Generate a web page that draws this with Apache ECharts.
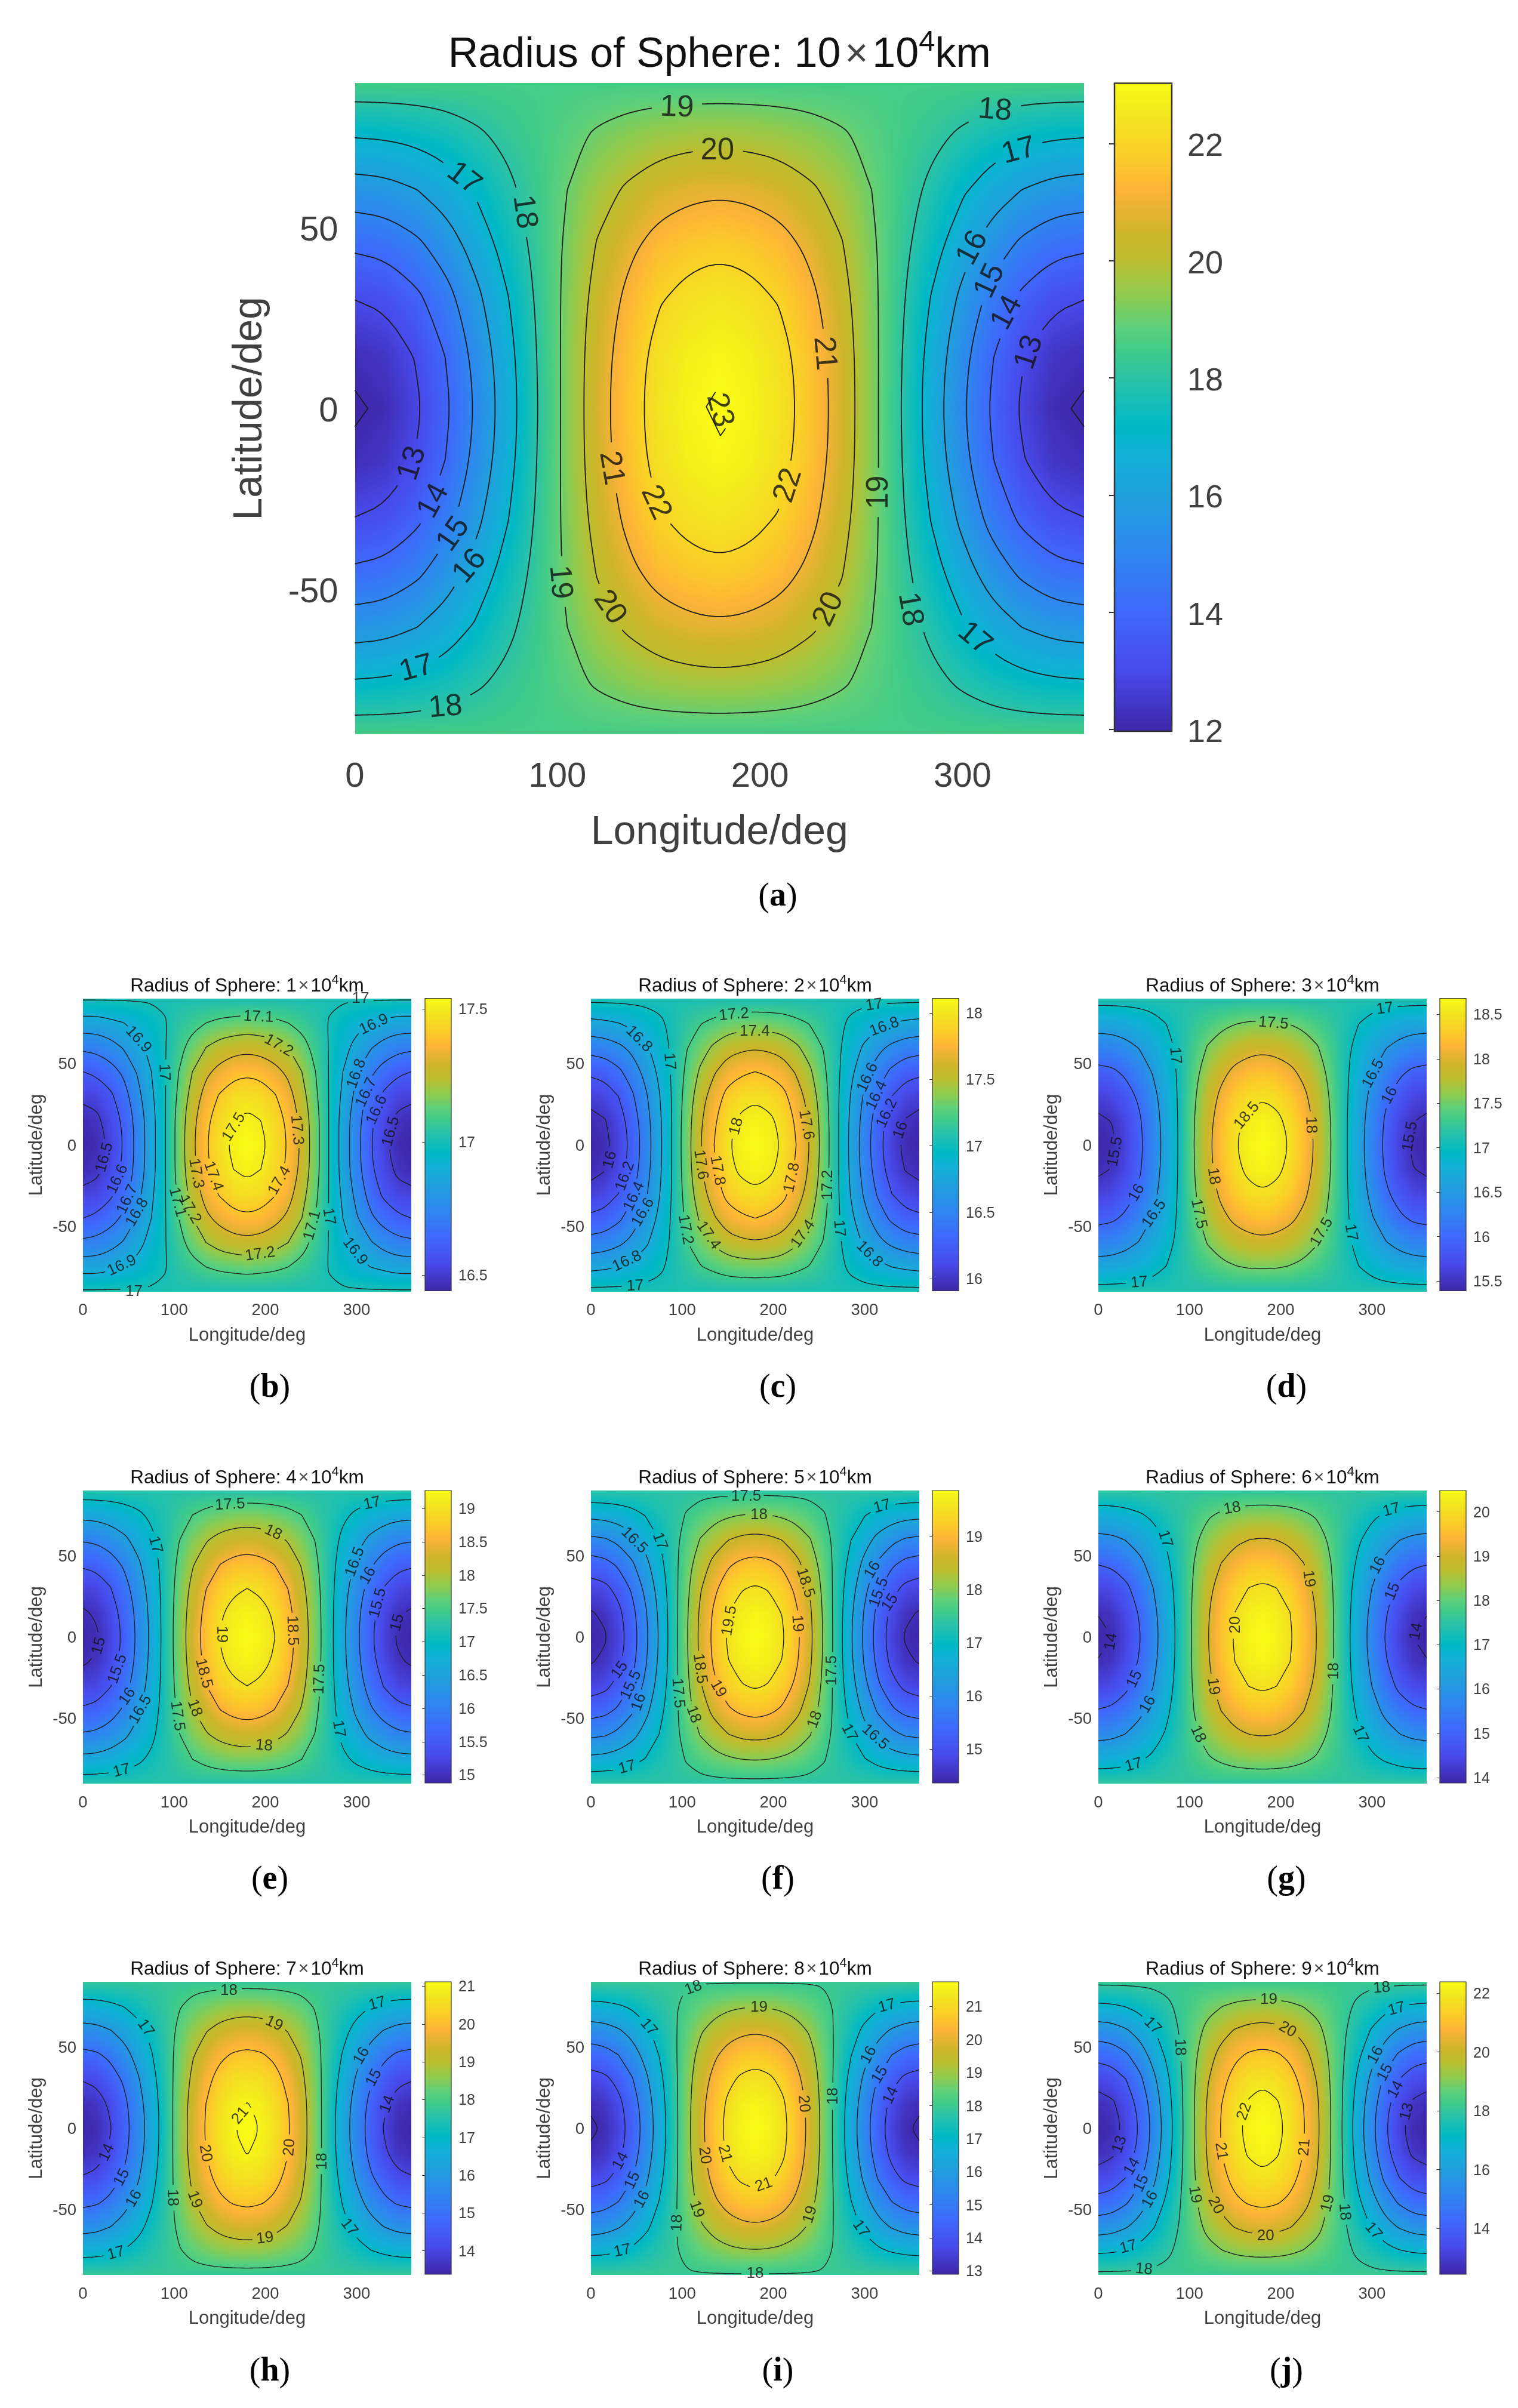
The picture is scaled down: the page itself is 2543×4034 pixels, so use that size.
<!DOCTYPE html>
<html>
<head>
<meta charset="utf-8">
<title>Radius of Sphere</title>
<script src="https://cdn.jsdelivr.net/npm/echarts@6/dist/echarts.min.js"></script>
<style>
html, body { margin: 0; padding: 0; background: #fff; }
#chart { width: 2543px; height: 4034px; }
</style>
</head>
<body>
<div id="chart"></div>
<script>
// grid nodes of one quadrant, the rest of the field is mirrored from it
var lonNodes = [0, 15, 30, 45, 60, 75, 90, 105, 120, 135, 150, 165, 180]
var latNodes = [0, 15, 30, 45, 60, 75, 90]

// values, one row per latNodes entry
var fieldA = [
  [11.97, 12.18, 12.82, 13.83, 15.13, 16.49, 17.97, 19.31, 20.60, 21.60, 22.40, 22.85, 23.03],
  [12.24, 12.45, 13.06, 14.04, 15.30, 16.61, 18.02, 19.30, 20.55, 21.52, 22.29, 22.72, 22.90],
  [13.00, 13.18, 13.74, 14.61, 15.74, 16.91, 18.12, 19.26, 20.37, 21.24, 21.93, 22.32, 22.48],
  [14.16, 14.31, 14.76, 15.48, 16.40, 17.36, 18.26, 19.17, 20.08, 20.79, 21.36, 21.67, 21.80],
  [15.52, 15.62, 15.94, 16.45, 17.10, 17.78, 18.38, 19.01, 19.66, 20.16, 20.56, 20.78, 20.87],
  [17.02, 17.08, 17.24, 17.50, 17.84, 18.19, 18.47, 18.79, 19.13, 19.39, 19.59, 19.71, 19.76],
  [18.53, 18.53, 18.53, 18.53, 18.53, 18.53, 18.53, 18.53, 18.53, 18.53, 18.53, 18.53, 18.53]
]
var fieldB = [
  [16.44, 16.46, 16.52, 16.61, 16.735, 16.86, 16.995, 17.14, 17.28, 17.39, 17.47, 17.52, 17.54],
  [16.46, 16.48, 16.54, 16.62, 16.74, 16.86, 16.995, 17.14, 17.27, 17.38, 17.45, 17.50, 17.52],
  [16.52, 16.53, 16.58, 16.66, 16.77, 16.88, 16.995, 17.12, 17.24, 17.34, 17.41, 17.45, 17.47],
  [16.60, 16.62, 16.66, 16.72, 16.81, 16.90, 16.995, 17.10, 17.20, 17.28, 17.33, 17.37, 17.38],
  [16.72, 16.73, 16.76, 16.81, 16.87, 16.93, 16.995, 17.07, 17.14, 17.20, 17.24, 17.26, 17.27],
  [16.86, 16.86, 16.88, 16.90, 16.93, 16.96, 16.995, 17.04, 17.07, 17.10, 17.12, 17.13, 17.14],
  [17.01, 17.01, 17.01, 17.01, 17.01, 17.01, 17.01, 17.01, 17.01, 17.01, 17.01, 17.01, 17.01]
]
var fieldC = [
  [15.91, 15.95, 16.07, 16.26, 16.50, 16.75, 17.03, 17.32, 17.59, 17.80, 17.98, 18.07, 18.11],
  [15.95, 15.99, 16.10, 16.29, 16.52, 16.76, 17.03, 17.31, 17.57, 17.77, 17.95, 18.04, 18.07],
  [16.06, 16.10, 16.20, 16.37, 16.57, 16.79, 17.03, 17.28, 17.52, 17.70, 17.86, 17.93, 17.97],
  [16.24, 16.27, 16.36, 16.49, 16.66, 16.84, 17.04, 17.24, 17.43, 17.58, 17.71, 17.77, 17.80],
  [16.48, 16.50, 16.56, 16.65, 16.77, 16.90, 17.04, 17.19, 17.32, 17.43, 17.52, 17.56, 17.58],
  [16.75, 16.77, 16.80, 16.85, 16.91, 16.97, 17.04, 17.12, 17.19, 17.24, 17.29, 17.31, 17.32],
  [17.05, 17.05, 17.05, 17.05, 17.05, 17.05, 17.05, 17.05, 17.05, 17.05, 17.05, 17.05, 17.05]
]
var fieldD = [
  [15.39, 15.45, 15.63, 15.91, 16.28, 16.66, 17.08, 17.50, 17.91, 18.23, 18.48, 18.62, 18.68],
  [15.45, 15.51, 15.68, 15.95, 16.31, 16.68, 17.08, 17.49, 17.88, 18.19, 18.43, 18.57, 18.63],
  [15.62, 15.68, 15.83, 16.07, 16.39, 16.72, 17.09, 17.45, 17.81, 18.08, 18.30, 18.42, 18.47],
  [15.90, 15.94, 16.07, 16.27, 16.53, 16.80, 17.09, 17.39, 17.68, 17.91, 18.08, 18.18, 18.23],
  [16.26, 16.29, 16.38, 16.52, 16.70, 16.89, 17.10, 17.32, 17.52, 17.68, 17.81, 17.88, 17.91],
  [16.68, 16.69, 16.74, 16.81, 16.91, 17.01, 17.12, 17.23, 17.33, 17.41, 17.48, 17.52, 17.53],
  [17.13, 17.13, 17.13, 17.13, 17.13, 17.13, 17.13, 17.13, 17.13, 17.13, 17.13, 17.13, 17.13]
]
var fieldE = [
  [14.88, 14.96, 15.21, 15.59, 16.09, 16.60, 17.17, 17.73, 18.26, 18.68, 19.01, 19.19, 19.27],
  [14.96, 15.04, 15.28, 15.65, 16.13, 16.62, 17.17, 17.71, 18.22, 18.63, 18.95, 19.12, 19.20],
  [15.19, 15.26, 15.48, 15.81, 16.24, 16.68, 17.18, 17.66, 18.12, 18.49, 18.77, 18.93, 19.00],
  [15.57, 15.63, 15.80, 16.07, 16.42, 16.78, 17.19, 17.58, 17.96, 18.26, 18.49, 18.62, 18.67],
  [16.05, 16.09, 16.22, 16.41, 16.66, 16.91, 17.20, 17.48, 17.75, 17.96, 18.12, 18.21, 18.25],
  [16.62, 16.64, 16.71, 16.81, 16.93, 17.07, 17.21, 17.36, 17.50, 17.61, 17.69, 17.74, 17.76],
  [17.23, 17.23, 17.23, 17.23, 17.23, 17.23, 17.23, 17.23, 17.23, 17.23, 17.23, 17.23, 17.23]
]
var fieldF = [
  [14.36, 14.46, 14.77, 15.26, 15.89, 16.55, 17.27, 17.96, 18.62, 19.13, 19.55, 19.78, 19.87],
  [14.47, 14.57, 14.87, 15.34, 15.95, 16.59, 17.27, 17.94, 18.58, 19.07, 19.48, 19.70, 19.79],
  [14.79, 14.88, 15.15, 15.57, 16.12, 16.69, 17.29, 17.89, 18.46, 18.90, 19.27, 19.47, 19.55],
  [15.29, 15.36, 15.58, 15.93, 16.37, 16.84, 17.32, 17.81, 18.27, 18.63, 18.93, 19.09, 19.16],
  [15.91, 15.96, 16.12, 16.36, 16.68, 17.01, 17.34, 17.69, 18.02, 18.27, 18.48, 18.60, 18.64],
  [16.62, 16.65, 16.73, 16.85, 17.02, 17.19, 17.35, 17.53, 17.70, 17.84, 17.94, 18.00, 18.03],
  [17.37, 17.37, 17.37, 17.37, 17.37, 17.37, 17.37, 17.37, 17.37, 17.37, 17.37, 17.37, 17.37]
]
var fieldG = [
  [13.88, 14.00, 14.37, 14.95, 15.70, 16.48, 17.33, 18.16, 18.97, 19.59, 20.09, 20.37, 20.48],
  [14.02, 14.14, 14.50, 15.06, 15.78, 16.54, 17.35, 18.15, 18.93, 19.53, 20.01, 20.28, 20.39],
  [14.41, 14.51, 14.83, 15.34, 15.99, 16.66, 17.38, 18.10, 18.80, 19.34, 19.77, 20.01, 20.11],
  [15.03, 15.12, 15.38, 15.79, 16.32, 16.87, 17.43, 18.01, 18.58, 19.02, 19.37, 19.57, 19.65],
  [15.79, 15.85, 16.03, 16.32, 16.70, 17.09, 17.47, 17.88, 18.29, 18.60, 18.85, 18.99, 19.04],
  [16.65, 16.68, 16.78, 16.93, 17.12, 17.33, 17.52, 17.72, 17.93, 18.09, 18.22, 18.29, 18.32],
  [17.54, 17.54, 17.54, 17.54, 17.54, 17.54, 17.54, 17.54, 17.54, 17.54, 17.54, 17.54, 17.54]
]
var fieldH = [
  [13.38, 13.52, 13.96, 14.64, 15.52, 16.44, 17.45, 18.42, 19.36, 20.08, 20.66, 20.99, 21.12],
  [13.55, 13.68, 14.11, 14.77, 15.62, 16.50, 17.47, 18.41, 19.32, 20.01, 20.57, 20.89, 21.02],
  [14.04, 14.16, 14.54, 15.13, 15.89, 16.69, 17.52, 18.35, 19.16, 19.79, 20.29, 20.58, 20.69],
  [14.78, 14.88, 15.19, 15.67, 16.29, 16.94, 17.60, 18.26, 18.93, 19.44, 19.85, 20.08, 20.17],
  [15.68, 15.75, 15.97, 16.31, 16.75, 17.21, 17.66, 18.13, 18.60, 18.96, 19.25, 19.41, 19.48],
  [16.70, 16.73, 16.85, 17.02, 17.25, 17.49, 17.71, 17.95, 18.20, 18.38, 18.53, 18.62, 18.65],
  [17.75, 17.75, 17.75, 17.75, 17.75, 17.75, 17.75, 17.75, 17.75, 17.75, 17.75, 17.75, 17.75]
]
var fieldI = [
  [12.90, 13.07, 13.57, 14.36, 15.39, 16.45, 17.62, 18.71, 19.77, 20.58, 21.23, 21.60, 21.75],
  [13.10, 13.27, 13.75, 14.51, 15.51, 16.53, 17.64, 18.69, 19.72, 20.50, 21.13, 21.49, 21.63],
  [13.66, 13.80, 14.24, 14.92, 15.81, 16.73, 17.70, 18.64, 19.56, 20.26, 20.82, 21.14, 21.27],
  [14.52, 14.64, 14.99, 15.55, 16.28, 17.03, 17.79, 18.54, 19.29, 19.86, 20.32, 20.58, 20.69],
  [15.56, 15.65, 15.90, 16.29, 16.81, 17.34, 17.85, 18.38, 18.91, 19.32, 19.64, 19.83, 19.90],
  [16.74, 16.79, 16.92, 17.12, 17.39, 17.66, 17.91, 18.18, 18.45, 18.66, 18.83, 18.93, 18.96],
  [17.95, 17.95, 17.95, 17.95, 17.95, 17.95, 17.95, 17.95, 17.95, 17.95, 17.95, 17.95, 17.95]
]
var fieldJ = [
  [12.44, 12.63, 13.20, 14.09, 15.25, 16.45, 17.77, 18.99, 20.17, 21.08, 21.81, 22.22, 22.39],
  [12.68, 12.86, 13.41, 14.27, 15.39, 16.55, 17.80, 18.97, 20.11, 20.99, 21.70, 22.09, 22.26],
  [13.32, 13.48, 13.98, 14.75, 15.75, 16.79, 17.87, 18.92, 19.94, 20.73, 21.36, 21.72, 21.87],
  [14.32, 14.46, 14.86, 15.49, 16.31, 17.16, 17.99, 18.82, 19.66, 20.30, 20.82, 21.11, 21.23],
  [15.51, 15.60, 15.89, 16.33, 16.91, 17.51, 18.07, 18.66, 19.25, 19.70, 20.07, 20.27, 20.36],
  [16.83, 16.88, 17.03, 17.26, 17.56, 17.87, 18.14, 18.44, 18.75, 18.98, 19.17, 19.28, 19.32],
  [18.18, 18.18, 18.18, 18.18, 18.18, 18.18, 18.18, 18.18, 18.18, 18.18, 18.18, 18.18, 18.18]
]

// contour levels
var levelsA = [13, 14, 15, 16, 17, 18, 19, 20, 21, 22]
var levelsB = [16.5, 16.6, 16.7, 16.8, 16.9, 17, 17.1, 17.2, 17.3, 17.4, 17.5]
var levelsC = [16, 16.2, 16.4, 16.6, 16.8, 17, 17.2, 17.4, 17.6, 17.8, 18]
var levelsD = [15.5, 16, 16.5, 17, 17.5, 18, 18.5]
var levelsE = [15, 15.5, 16, 16.5, 17, 17.5, 18, 18.5, 19]
var levelsF = [14.5, 15, 15.5, 16, 16.5, 17, 17.5, 18, 18.5, 19, 19.5]
var levelsG = [14, 15, 16, 17, 18, 19, 20]
var levelsH = [14, 15, 16, 17, 18, 19, 20, 21]
var levelsI = [13, 14, 15, 16, 17, 18, 19, 20, 21]
var levelsJ = [13, 14, 15, 16, 17, 18, 19, 20, 21, 22]

// the tiny closed contours of the big panel, too small for the grid
var smallContoursA = [
  [[0, 5], [6.4, 0], [0, -5]],
  [[360, 5], [353.6, 0], [360, -5]],
  [[178, 4.5], [173.5, 0.5], [180.5, -7.5], [183, -5.5]]
]

// colour bar ranges and ticks
var rangeA = [11.97, 23.03], ticksA = [12, 14, 16, 18, 20, 22]
var rangeB = [16.44, 17.54], ticksB = [16.5, 17, 17.5]
var rangeC = [15.91, 18.11], ticksC = [16, 16.5, 17, 17.5, 18]
var rangeD = [15.39, 18.68], ticksD = [15.5, 16, 16.5, 17, 17.5, 18, 18.5]
var rangeE = [14.88, 19.27], ticksE = [15, 15.5, 16, 16.5, 17, 17.5, 18, 18.5, 19]
var rangeF = [14.36, 19.87], ticksF = [15, 16, 17, 18, 19]
var rangeG = [13.88, 20.48], ticksG = [14, 15, 16, 17, 18, 19, 20]
var rangeH = [13.38, 21.12], ticksH = [14, 15, 16, 17, 18, 19, 20, 21]
var rangeI = [12.90, 21.75], ticksI = [13, 14, 15, 16, 17, 18, 19, 20, 21]
var rangeJ = [12.44, 22.39], ticksJ = [14, 16, 18, 20, 22]

var lonTicks = [0, 100, 200, 300]
var latTicks = [-50, 0, 50]

// contour labels: lon, lat, rotation, text
var labelsA = [
  [159, 83.1, -2, '19'], [179, 71.1, 0, '20'], [83.6, 54.3, -82, '18'], [53.8, 63.5, -38, '17'],
  [231.7, 15.2, -85, '21'], [180, -0.5, -75, '23'], [126.5, -16.5, -80, '21'], [148.5, -26, -65, '22'],
  [214, -21.3, 72, '22'], [258.8, -23.2, 90, '19'], [101.2, -48, -85, '19'], [125.8, -55, -55, '20'],
  [234, -55.5, 65, '20'], [274, -55.5, -80, '18'], [306, -63.6, -40, '17'], [28.4, -15.2, 72, '13'],
  [38.9, -25.6, 62, '14'], [48.7, -34.8, 55, '15'], [56.8, -43.6, 50, '16'], [30.4, -71.9, 15, '17'],
  [44.7, -82.6, 5, '18'], [316, 82.3, -5, '18'], [327.8, 71.1, 15, '17'], [305, 44.3, 62, '16'],
  [313.6, 35.2, 65, '15'], [322, 26.4, 62, '14'], [333, 15.5, 72, '13']
]
var labelsB = [
  [192.4, 78.6, -3, '17.1'], [214.6, 61, -30, '17.2'], [60.7, 64.7, -48, '16.9'], [89, 44.6, -88, '17'],
  [165.5, 10.9, 58, '17.5'], [234.4, 9.1, -85, '17.3'], [124, -17.5, -80, '17.3'], [142.8, -19.2, -70, '17.4'],
  [215.7, -21.9, 60, '17.4'], [103.4, -35.2, -75, '17.1'], [117, -39.6, -60, '17.2'], [251.6, -49.4, 75, '17.1'],
  [269.6, -44, -80, '17'], [194.2, -67.1, 8, '17.2'], [298.3, -65.4, -52, '16.9'], [42.7, -74.2, 25, '16.9'],
  [56, -90, 0, '17'], [304.4, 89.8, 0, '17'], [319, 73.9, 25, '16.9'], [300, 43.7, 70, '16.8'],
  [310.8, 32.2, 65, '16.7'], [322.3, 21.5, 65, '16.6'], [337.7, 8.2, 75, '16.5'], [23.7, -7.7, 75, '16.5'],
  [38, -21, 65, '16.6'], [48.8, -33.4, 65, '16.7'], [59.6, -41.4, 60, '16.8']
]
var labelsC = [
  [156.8, 80, 5, '17.2'], [179.6, 69.8, 0, '17.4'], [52.6, 65, -45, '16.8'], [86, 51.3, -85, '17'],
  [159.6, 11.4, 75, '18'], [236, 12.3, -80, '17.6'], [120.4, -12.1, -82, '17.6'], [138.6, -15.7, -80, '17.8'],
  [220.4, -20.1, 78, '17.8'], [259.6, -24.6, 90, '17.2'], [103.5, -52, -80, '17.2'], [128.8, -55.6, -55, '17.4'],
  [232.6, -54.7, 55, '17.4'], [272, -51.2, -85, '17'], [305.3, -67.1, -45, '16.8'], [39.6, -71.5, 25, '16.8'],
  [48.4, -86.6, 3, '17'], [310.5, 85.9, 8, '17'], [321.8, 72.5, 20, '16.8'], [303.5, 41.4, 65, '16.6'],
  [313.3, 30.4, 65, '16.4'], [324.6, 19.4, 65, '16.2'], [339.6, 9.1, 70, '16'], [21, -9.1, 75, '16'],
  [37.5, -19.2, 70, '16.2'], [47.4, -31.6, 65, '16.4'], [57.2, -41.4, 60, '16.6']
]
var labelsD = [
  [192, 74.7, -5, '17.5'], [84.2, 54.9, -85, '17'], [162.9, 18, 50, '18.5'], [233, 12.3, -88, '18'],
  [126.3, -19.2, -82, '18'], [301.5, 43.7, 62, '16.5'], [319.6, 30.4, 62, '16'], [341.9, 5.2, 80, '15.5'],
  [18.5, -4.2, 80, '15.5'], [42.1, -29.5, 60, '16'], [61.3, -42.3, 55, '16.5'], [109.9, -42.3, -78, '17.5'],
  [245, -53.5, 60, '17.5'], [276.9, -53.8, -80, '17'], [44.8, -84.5, 5, '17'], [314.2, 83.6, 8, '17']
]
var labelsE = [
  [161.2, 81.3, 3, '17.5'], [208.5, 64.2, -25, '18'], [79.3, 56.7, -75, '17'], [229.4, 4, -88, '18.5'],
  [151.8, 1.7, -90, '19'], [132.4, -22.3, -75, '18.5'], [259.5, -25.8, 88, '17.5'], [103.4, -48.4, -82, '17.5'],
  [122.4, -43.6, -70, '18'], [198.5, -66.7, -5, '18'], [280.3, -56.4, -80, '17'], [42.4, -82.1, 15, '17'],
  [317, 82, 12, '17'], [298.3, 46.1, 70, '16.5'], [312.6, 37.7, 60, '16'], [323.4, 20.9, 75, '15.5'],
  [344.9, 8.8, 75, '15'], [17.6, -5.4, 75, '15'], [38, -19.6, 70, '15.5'], [48.8, -36.5, 55, '16'],
  [63.2, -44.5, 60, '16.5']
]
var labelsF = [
  [170.2, 86.4, 0, '17.5'], [184.2, 75, 0, '18'], [47.4, 59.4, -45, '16.5'], [75.4, 58.9, -70, '17'],
  [235, 33.3, -72, '18.5'], [151.9, 10, 80, '19.5'], [226.3, 8.4, -85, '19'], [119.3, -19.3, -82, '18.5'],
  [139.6, -31.7, -60, '19'], [264.2, -20.5, 90, '17.5'], [95.4, -34.4, -85, '17.5'], [112.3, -47.5, -70, '18'],
  [245.6, -50.7, 70, '18'], [283.2, -58.7, -62, '17'], [311.6, -61.4, -42, '16.5'], [39.6, -80, 15, '17'],
  [319.3, 80.2, 15, '17'], [308.8, 41.3, 60, '16'], [315.8, 27.4, 70, '15.5'], [328, 21.2, 55, '15'],
  [31.6, -20.2, 55, '15'], [43.9, -29.4, 65, '15.5'], [52.6, -40, 70, '16']
]
var labelsG = [
  [146.8, 79, 10, '18'], [73.2, 60.3, -72, '17'], [230.7, 35.8, -82, '19'], [150.2, 7.5, 90, '20'],
  [125.9, -30.3, -82, '19'], [258.7, -20.9, 90, '18'], [109.2, -59.6, -65, '18'], [287.1, -59.6, -65, '17'],
  [38.7, -78.6, 15, '17'], [321.4, 78.1, 15, '17'], [306.6, 44, 62, '16'], [322.7, 28, 68, '15'],
  [348.7, 3.5, 80, '14'], [14, -2.8, 80, '14'], [39.7, -25.8, 65, '15'], [54.4, -41.5, 60, '16']
]
var labelsH = [
  [160, 84.6, 0, '18'], [209.6, 64.3, -25, '19'], [68.6, 61.6, -55, '17'], [172.6, 7.9, 50, '21'],
  [134.2, -15.3, -80, '20'], [226.5, -11.7, 85, '20'], [262.4, -20.3, 90, '18'], [98, -42.5, -88, '18'],
  [122.4, -43.7, -70, '19'], [199.6, -67.5, 8, '19'], [291.8, -60.8, -52, '17'], [36.3, -76.7, 15, '17'],
  [322.7, 76.5, 15, '17'], [305.5, 44.5, 60, '16'], [319, 31, 62, '15'], [334, 14.8, 70, '14'],
  [26.2, -14.9, 65, '14'], [42.7, -30.2, 62, '15'], [56, -43.2, 60, '16']
]
var labelsI = [
  [112.3, 86.2, 20, '18'], [184.2, 74.2, 0, '19'], [63.2, 62.1, -50, '17'], [265.6, 19.8, 90, '18'],
  [233.3, 15.1, -85, '20'], [124.6, -16.7, -82, '20'], [146.7, -15.5, -75, '21'], [189.5, -34.7, 20, '21'],
  [115.8, -49.7, -70, '19'], [240.4, -53, 72, '19'], [94.7, -58.1, 88, '18'], [295.8, -61.7, -55, '17'],
  [180, -89.3, 0, '18'], [34.4, -75.2, 12, '17'], [324.6, 75.1, 15, '17'], [304.6, 45, 62, '16'],
  [316.8, 32.8, 58, '15'], [328.8, 20.2, 65, '14'], [32.6, -20, 62, '14'], [45.6, -32, 65, '15'],
  [56.1, -43.7, 62, '16']
]
var labelsJ = [
  [310.7, 86.2, 5, '18'], [327.1, 73.3, 15, '17'], [186.9, 79.2, 0, '19'], [207.4, 60.7, -30, '20'],
  [59.5, 63, -45, '17'], [89.3, 49.9, -88, '18'], [160.2, 10.3, 70, '22'], [226.2, -11.7, 85, '21'],
  [134.5, -14, -82, '21'], [105.7, -40.7, -80, '19'], [128.7, -47.3, -62, '20'], [183.4, -66.2, 0, '20'],
  [251.9, -46.1, 75, '19'], [269.7, -51.3, -85, '18'], [301.5, -63, -50, '17'], [32.9, -72.9, 15, '17'],
  [50, -86.6, -5, '18'], [304.2, 45, 62, '16'], [314.5, 34.2, 62, '15'], [326.1, 23.8, 62, '14'],
  [338.5, 10.3, 75, '13'], [23.3, -9.9, 70, '13'], [37, -23.4, 60, '14'], [47.2, -33.8, 65, '15'],
  [56.8, -43.7, 60, '16']
]

// colour bar of the reference, sampled at these fractions
var barStops = [0, 0.097, 0.184, 0.273, 0.364, 0.423, 0.472, 0.547, 0.586, 0.625, 0.67, 0.727, 0.768, 0.807, 0.834, 0.88, 0.945, 1]
var barColours = ['#3e26a8', '#484bec', '#3f68fb', '#2f86f0', '#1fa0dc', '#14b0d8', '#00b9c6', '#2dc3a5', '#3fcb8a',
  '#5fd07a', '#8ccb50', '#bdbe30', '#cdb52a', '#eab335', '#fdb338', '#fcca2a', '#f3e420', '#f9fb15']

// layout, in page pixels
var colX = [{ plot: 139, cb: 712, cap: 452 }, { plot: 990, cb: 1562, cap: 1303 }, { plot: 1840, cb: 2412, cap: 2155 }]
var rowY = [{ top: 1672.5, title: 1652, cap: 2326 }, { top: 2497, title: 2476, cap: 3150 }, { top: 3320, title: 3299, cap: 3974 }]
var small = { w: 550, h: 491, cbW: 44, tick: 27.5, cbFont: 25, name: 31, title: 31.5, label: 26, line: 1.3,
  tickMargin: 18, yMargin: 11, xGap: 58, yGap: 62, cbMargin: 12, cbTick: 5, shift: 2 }
var big = { w: 1221.5, h: 1091.4, cbW: 96, tick: 58, cbFont: 54, name: 68, title: 70, label: 51, line: 1.8,
  tickMargin: 43, yMargin: 28, xGap: 131, yGap: 141, cbMargin: 26, cbTick: 9, shift: 6 }

function smallPanel(col, row, id, num, field, levels, labels, range, ticks) {
  return { size: small, x: colX[col].plot, y: rowY[row].top, cbX: colX[col].cb, cbY: rowY[row].top, cbH: 490,
    titleY: rowY[row].title, capX: colX[col].cap, capY: rowY[row].cap,
    id: id, num: num, field: field, levels: levels, labels: labels, range: range, ticks: ticks, extra: [] }
}

var panels = [
  { size: big, x: 594.5, y: 138.6, cbX: 1867, cbY: 139.5, cbH: 1085.5, titleY: 93, capX: 1303, capY: 1503,
    id: 'a', num: '10', field: fieldA, levels: levelsA, labels: labelsA, range: rangeA, ticks: ticksA, extra: smallContoursA },
  smallPanel(0, 0, 'b', '1', fieldB, levelsB, labelsB, rangeB, ticksB),
  smallPanel(1, 0, 'c', '2', fieldC, levelsC, labelsC, rangeC, ticksC),
  smallPanel(2, 0, 'd', '3', fieldD, levelsD, labelsD, rangeD, ticksD),
  smallPanel(0, 1, 'e', '4', fieldE, levelsE, labelsE, rangeE, ticksE),
  smallPanel(1, 1, 'f', '5', fieldF, levelsF, labelsF, rangeF, ticksF),
  smallPanel(2, 1, 'g', '6', fieldG, levelsG, labelsG, rangeG, ticksG),
  smallPanel(0, 2, 'h', '7', fieldH, levelsH, labelsH, rangeH, ticksH),
  smallPanel(1, 2, 'i', '8', fieldI, levelsI, labelsI, rangeI, ticksI),
  smallPanel(2, 2, 'j', '9', fieldJ, levelsJ, labelsJ, rangeJ, ticksJ)
]

var SANS = '"Liberation Sans", Arial, sans-serif'
var SERIF = '"Liberation Serif", serif'
var TEXT_GRAY = '#404040'
var SUB = 32 // canvas pixels per grid cell

// node axes and table for the whole sphere
var allLons = lonNodes.concat(lonNodes.slice(0, -1).reverse().map(function (v) { return 360 - v }))
var allLats = latNodes.slice(1).reverse().map(function (v) { return -v }).concat(latNodes)

function fullTable(field) {
  var rows = field.slice(1).reverse().concat(field)
  return rows.map(function (r) { return r.concat(r.slice(0, -1).reverse()) })
}

function colourTable() {
  var rgb = barColours.map(function (c) {
    return [parseInt(c.slice(1, 3), 16), parseInt(c.slice(3, 5), 16), parseInt(c.slice(5, 7), 16)]
  })
  var out = []
  for (var i = 0, k = 0; i <= 512; i++) {
    var t = i / 512
    while (k < barStops.length - 2 && t > barStops[k + 1]) k++
    var f = (t - barStops[k]) / (barStops[k + 1] - barStops[k])
    out.push([0, 1, 2].map(function (n) { return rgb[k][n] * (1 - f) + rgb[k + 1][n] * f }))
  }
  return out
}
var lut = colourTable()

// shade the table like "shading interp" into one canvas, each cell takes its part of it
function shadeCanvas(table, range) {
  var nx = allLons.length - 1, ny = allLats.length - 1
  var cv = document.createElement('canvas')
  cv.width = nx * SUB
  cv.height = ny * SUB
  var ctx = cv.getContext('2d')
  var img = ctx.createImageData(cv.width, cv.height)
  for (var py = 0; py < cv.height; py++) {
    var gy = ny - (py + 0.5) / SUB
    var j = Math.min(Math.floor(gy), ny - 1), fy = gy - j
    for (var px = 0; px < cv.width; px++) {
      var gx = (px + 0.5) / SUB
      var i = Math.min(Math.floor(gx), nx - 1), fx = gx - i
      var v = table[j][i] * (1 - fx) * (1 - fy) + table[j][i + 1] * fx * (1 - fy) +
        table[j + 1][i] * (1 - fx) * fy + table[j + 1][i + 1] * fx * fy
      var t = Math.max(0, Math.min(1, (v - range[0]) / (range[1] - range[0])))
      var c = lut[Math.round(t * 512)]
      var o = (py * cv.width + px) * 4
      img.data[o] = c[0]
      img.data[o + 1] = c[1]
      img.data[o + 2] = c[2]
      img.data[o + 3] = 255
    }
  }
  ctx.putImageData(img, 0, 0)
  return cv
}

// marching squares over the table, gives polylines in lon/lat
function contourLines(table, level) {
  var pts = {}, links = {}
  function edge(i0, j0, i1, j1) {
    var a = table[j0][i0], b = table[j1][i1]
    if ((a < level) === (b < level)) return null
    var key = i0 + '_' + j0 + '_' + i1 + '_' + j1
    var f = (level - a) / (b - a)
    pts[key] = [allLons[i0] + (allLons[i1] - allLons[i0]) * f, allLats[j0] + (allLats[j1] - allLats[j0]) * f]
    return key
  }
  function link(a, b) {
    (links[a] = links[a] || []).push(b);
    (links[b] = links[b] || []).push(a)
  }
  for (var j = 0; j < allLats.length - 1; j++) {
    for (var i = 0; i < allLons.length - 1; i++) {
      var cut = [edge(i, j, i + 1, j), edge(i + 1, j, i + 1, j + 1), edge(i, j + 1, i + 1, j + 1), edge(i, j, i, j + 1)]
        .filter(function (k) { return k })
      if (cut.length >= 2) link(cut[0], cut[1])
      if (cut.length === 4) link(cut[2], cut[3])
    }
  }
  var used = {}, lines = []
  function walk(start) {
    var line = [start], cur = start
    used[start] = true
    while (true) {
      var next = (links[cur] || []).filter(function (k) { return !used[k] })[0]
      if (!next) break
      used[next] = true
      line.push(next)
      cur = next
    }
    var closed = line.length > 2 && links[cur].indexOf(start) >= 0
    var out = line.map(function (k) { return pts[k] })
    lines.push({ pts: out, closed: closed })
  }
  Object.keys(links).forEach(function (k) { if (links[k].length === 1 && !used[k]) walk(k) })
  Object.keys(links).forEach(function (k) { if (!used[k]) walk(k) })
  return lines
}

// corner cutting so the coarse grid does not show in the lines
function rounded(line) {
  var p = line.pts
  for (var n = 0; n < 2; n++) {
    var q = []
    if (!line.closed) q.push(p[0])
    var last = line.closed ? p.length : p.length - 1
    for (var i = 0; i < last; i++) {
      var a = p[i], b = p[(i + 1) % p.length]
      q.push([a[0] * 0.75 + b[0] * 0.25, a[1] * 0.75 + b[1] * 0.25])
      q.push([a[0] * 0.25 + b[0] * 0.75, a[1] * 0.25 + b[1] * 0.75])
    }
    if (!line.closed) q.push(p[p.length - 1])
    p = q
  }
  if (line.closed) p = p.concat([p[0]])
  return p
}

// cut the line where its own label sits, as clabel does
function cutAtLabels(p, labels, size) {
  var kx = size.w / 360, ky = size.h / 180
  var boxes = labels.map(function (l) {
    var txt = l[3]
    return { x: l[0] * kx, y: -l[1] * ky, r: -l[2] * Math.PI / 180,
      hw: txt.replace('.', '').length * 0.556 * size.label / 2 + size.label * 0.25, hh: size.label * 0.62 }
  })
  function inside(x, y) {
    for (var i = 0; i < boxes.length; i++) {
      var b = boxes[i], dx = x - b.x, dy = y - b.y
      var u = dx * Math.cos(b.r) + dy * Math.sin(b.r)
      var v = -dx * Math.sin(b.r) + dy * Math.cos(b.r)
      if (Math.abs(u) < b.hw && Math.abs(v) < b.hh) return true
    }
    return false
  }
  var out = [], open = false
  for (var i = 0; i < p.length - 1; i++) {
    var a = p[i], b = p[i + 1]
    var d = Math.hypot((b[0] - a[0]) * kx, (b[1] - a[1]) * ky)
    var n = Math.max(1, Math.ceil(d / 3))
    for (var s = i === 0 ? 0 : 1; s <= n; s++) {
      var lon = a[0] + (b[0] - a[0]) * s / n, lat = a[1] + (b[1] - a[1]) * s / n
      if (inside(lon * kx, -lat * ky)) {
        if (open) out.push(['-', '-'])
        open = false
      } else {
        out.push([lon, lat])
        open = true
      }
    }
  }
  out.push(['-', '-'])
  return out
}

var option = {
  animation: false,
  backgroundColor: '#fff',
  title: [], grid: [], xAxis: [], yAxis: [], series: []
}

panels.forEach(function (p, n) {
  var s = p.size
  var table = fullTable(p.field)
  var canvas = shadeCanvas(table, p.range)
  var gPlot = n * 2, gBar = n * 2 + 1

  option.title.push({
    left: p.x + s.w / 2, top: p.titleY, textAlign: 'center', textVerticalAlign: 'middle', padding: 0,
    text: '{t|Radius of Sphere: ' + p.num + '}{x|×}{t|10}{s|4}{t|km}',
    textStyle: { fontWeight: 'normal', rich: {
      t: { fontFamily: SANS, fontWeight: 'normal', fontSize: s.title, color: '#111' },
      x: { fontFamily: SANS, fontWeight: 'normal', fontSize: s.title * 0.95, color: '#444', padding: [0, s.title * 0.1, 0, s.title * 0.1] },
      s: { fontFamily: SANS, fontWeight: 'normal', fontSize: s.title * 0.7, color: '#111', padding: [0, 0, s.title * 0.62, 0] }
    } }
  })
  option.title.push({
    left: p.capX, top: p.capY, textAlign: 'center', textVerticalAlign: 'middle', padding: 0,
    text: '{r|(}{b|' + p.id + '}{r|)}',
    textStyle: { fontWeight: 'normal', rich: {
      r: { fontFamily: SERIF, fontWeight: 'normal', fontSize: 56, color: '#000' },
      b: { fontFamily: SERIF, fontWeight: 'bold', fontSize: 56, color: '#000' }
    } }
  })

  option.grid.push({ left: p.x, top: p.y, width: s.w, height: s.h })
  option.grid.push({ left: p.cbX, top: p.cbY, width: s.cbW, height: p.cbH })

  // tick labels sit a little under their ticks in the reference
  var lowered = { fontFamily: SANS, color: TEXT_GRAY, padding: [s.shift * 2, 0, 0, 0] }

  option.xAxis.push({
    gridIndex: gPlot, type: 'value', min: 0, max: 360,
    name: 'Longitude/deg', nameLocation: 'middle', nameGap: s.xGap,
    nameTextStyle: { fontFamily: SANS, fontSize: s.name, color: TEXT_GRAY },
    axisLine: { show: false }, axisTick: { show: false }, splitLine: { show: false },
    axisLabel: { customValues: lonTicks, margin: s.tickMargin, fontFamily: SANS, fontSize: s.tick, color: TEXT_GRAY }
  })
  option.yAxis.push({
    gridIndex: gPlot, type: 'value', min: -90, max: 90,
    name: 'Latitude/deg', nameLocation: 'middle', nameGap: s.yGap,
    nameTextStyle: { fontFamily: SANS, fontSize: s.name, color: TEXT_GRAY },
    axisLine: { show: false }, axisTick: { show: false }, splitLine: { show: false },
    axisLabel: { customValues: latTicks, margin: s.yMargin, fontSize: s.tick,
      formatter: '{a|{value}}',
      rich: { a: Object.assign({ fontSize: s.tick }, lowered) } }
  })
  option.xAxis.push({ gridIndex: gBar, type: 'value', min: 0, max: 1, show: false })
  option.yAxis.push({
    gridIndex: gBar, type: 'value', position: 'right', min: p.range[0], max: p.range[1], z: 5,
    axisLine: { show: false }, splitLine: { show: false },
    axisTick: { inside: true, length: s.cbTick, customValues: p.ticks, lineStyle: { color: '#333', width: n === 0 ? 2 : 1 } },
    axisLabel: { customValues: p.ticks, margin: s.cbMargin, fontSize: s.cbFont,
      formatter: '{a|{value}}',
      rich: { a: Object.assign({ fontSize: s.cbFont }, lowered) } }
  })

  // one data item per grid cell
  var cells = []
  for (var j = 0; j < allLats.length - 1; j++) {
    for (var i = 0; i < allLons.length - 1; i++) {
      cells.push([allLons[i], allLats[j], allLons[i + 1], allLats[j + 1], i, j])
    }
  }
  var ny = allLats.length - 1
  option.series.push({
    type: 'custom', name: 'field ' + p.id, xAxisIndex: gPlot, yAxisIndex: gPlot, coordinateSystem: 'cartesian2d',
    silent: true, z: 1, clip: false, progressive: 0, data: cells, encode: { x: [0, 2], y: [1, 3] },
    renderItem: function (params, api) {
      var a = api.coord([api.value(0), api.value(3)])
      var b = api.coord([api.value(2), api.value(1)])
      var x = Math.round(a[0]), y = Math.round(a[1])
      return {
        type: 'image',
        style: { image: canvas, x: x, y: y, width: Math.round(b[0]) - x, height: Math.round(b[1]) - y,
          sx: api.value(4) * SUB, sy: (ny - 1 - api.value(5)) * SUB, sWidth: SUB, sHeight: SUB }
      }
    }
  })

  // contours
  var lineData = []
  p.levels.forEach(function (lv) {
    var own = p.labels.filter(function (l) { return Math.abs(parseFloat(l[3]) - lv) < 1e-6 })
    contourLines(table, lv).forEach(function (line) {
      lineData = lineData.concat(cutAtLabels(rounded(line), own, s))
    })
  })
  p.extra.forEach(function (e) {
    lineData = lineData.concat(e, [['-', '-']])
  })
  option.series.push({
    type: 'line', name: 'contours ' + p.id, xAxisIndex: gPlot, yAxisIndex: gPlot, silent: true, z: 2,
    symbol: 'none', connectNulls: false, data: lineData,
    lineStyle: { color: '#1c1c1c', width: s.line }
  })

  option.series.push({
    type: 'scatter', name: 'contour labels ' + p.id, xAxisIndex: gPlot, yAxisIndex: gPlot, silent: true, z: 3,
    clip: false, symbolSize: 1, itemStyle: { color: 'rgba(0,0,0,0)' },
    label: { show: true, position: 'inside', fontFamily: SANS, fontSize: s.label, color: '#111' },
    data: p.labels.map(function (l) {
      return { value: [l[0], l[1]], label: { rotate: l[2], formatter: l[3] } }
    })
  })

  // colour bar
  var stops = barColours.map(function (c, k) { return { offset: barStops[k], color: c } })
  option.series.push({
    type: 'custom', name: 'colour bar ' + p.id, xAxisIndex: gBar, yAxisIndex: gBar, coordinateSystem: 'cartesian2d',
    silent: true, z: 1, clip: false, data: [[0, p.range[0], 1, p.range[1]]], encode: { x: [0, 2], y: [1, 3] },
    renderItem: function (params, api) {
      var a = api.coord([api.value(0), api.value(3)])
      var b = api.coord([api.value(2), api.value(1)])
      return {
        type: 'rect',
        shape: { x: a[0], y: a[1], width: b[0] - a[0], height: b[1] - a[1] },
        style: { fill: new echarts.graphic.LinearGradient(0, 1, 0, 0, stops), stroke: '#333', lineWidth: n === 0 ? 2.5 : 1.2 }
      }
    }
  })
})

var chart = echarts.init(document.getElementById('chart'), null, { renderer: 'canvas' })
chart.setOption(option)
</script>
</body>
</html>
